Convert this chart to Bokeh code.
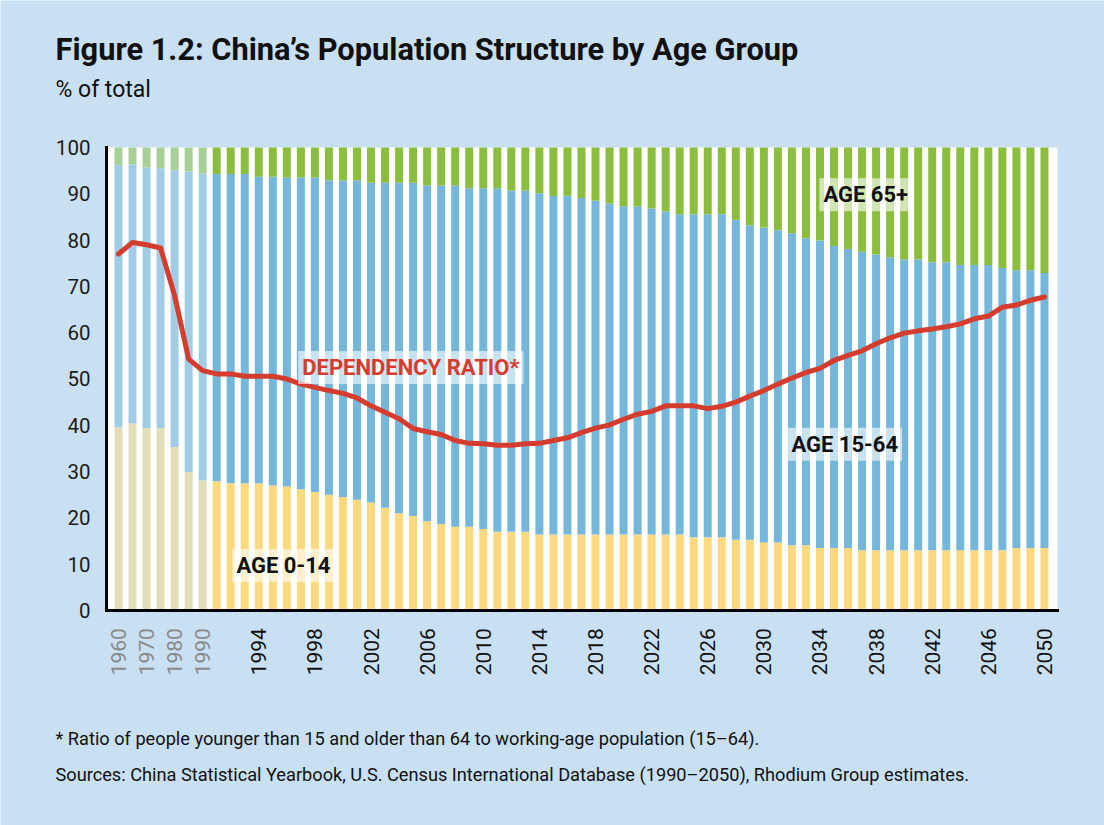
from math import pi
from bokeh.plotting import figure
from bokeh.models import Range1d, Label, LabelSet, ColumnDataSource
from bokeh.core.properties import value
from bokeh.embed import file_html
from bokeh.resources import INLINE

# ---------------- data ----------------
years = [1960, 1965, 1970, 1975, 1980, 1985, 1990] + list(range(1991, 2051))
historical_years = [1960, 1965, 1970, 1975, 1980, 1985, 1990]

age_0_14 = [39.6, 40.4, 39.4, 39.4, 35.3, 29.9, 28.1,
            27.9, 27.5, 27.5, 27.5, 27.0, 26.8, 26.2, 25.6, 25.0, 24.5,
            23.9, 23.3, 22.2, 21.0, 20.4, 19.3, 18.7, 18.1, 18.1, 17.6,
            17.0, 17.0, 17.0, 16.4, 16.4, 16.4, 16.4, 16.4, 16.4, 16.4,
            16.4, 16.4, 16.4, 16.4, 15.8, 15.8, 15.8, 15.3, 15.3, 14.7,
            14.7, 14.1, 14.1, 13.5, 13.5, 13.5, 13.0, 13.0, 13.0, 13.0,
            13.0, 13.0, 13.0, 13.0, 13.0, 13.0, 13.0, 13.5, 13.5, 13.5]

age_15_64 = [56.7, 56.0, 56.3, 56.1, 59.8, 64.9, 66.3,
             66.4, 66.8, 66.8, 66.2, 66.7, 66.7, 67.3, 67.9, 67.9, 68.4,
             69.0, 69.1, 70.2, 71.4, 72.0, 72.5, 73.1, 73.7, 73.1, 73.6,
             74.2, 73.7, 73.7, 73.7, 73.1, 73.2, 72.7, 72.1, 71.5, 70.9,
             70.9, 70.4, 69.8, 69.2, 69.8, 69.8, 69.8, 69.1, 67.9, 68.0,
             67.4, 67.4, 66.3, 66.4, 65.2, 64.6, 64.5, 63.9, 63.3, 62.8,
             62.8, 62.2, 62.2, 61.6, 61.6, 61.6, 61.0, 60.0, 60.0, 59.4]

age_65_plus = [3.7, 3.6, 4.3, 4.5, 4.9, 5.2, 5.6,
               5.7, 5.7, 5.7, 6.3, 6.3, 6.5, 6.5, 6.5, 7.1, 7.1,
               7.1, 7.6, 7.6, 7.6, 7.6, 8.2, 8.2, 8.2, 8.8, 8.8,
               8.8, 9.3, 9.3, 9.9, 10.5, 10.4, 10.9, 11.5, 12.1, 12.7,
               12.7, 13.2, 13.8, 14.4, 14.4, 14.4, 14.4, 15.6, 16.8, 17.3,
               17.9, 18.5, 19.6, 20.1, 21.3, 21.9, 22.5, 23.1, 23.7, 24.2,
               24.2, 24.8, 24.8, 25.4, 25.4, 25.4, 26.0, 26.5, 26.5, 27.1]

dependency_ratio = [77.0, 79.5, 79.0, 78.3, 68.0, 54.3, 51.8,
                    51.1, 51.1, 50.6, 50.6, 50.6, 50.0, 48.9, 48.2, 47.5, 46.9,
                    45.9, 44.2, 42.8, 41.4, 39.3, 38.6, 38.0, 36.7, 36.1, 36.0,
                    35.7, 35.7, 36.0, 36.1, 36.7, 37.3, 38.4, 39.4, 40.1, 41.3,
                    42.4, 43.0, 44.2, 44.2, 44.2, 43.6, 44.1, 45.0, 46.3, 47.5,
                    48.9, 50.2, 51.4, 52.3, 54.0, 55.1, 56.1, 57.6, 58.9, 59.9,
                    60.4, 60.8, 61.3, 61.9, 63.0, 63.6, 65.5, 66.0, 67.0, 67.7]

tick_years = [1960, 1970, 1980, 1990] + list(range(1994, 2051, 4))
y_ticks = [0, 10, 20, 30, 40, 50, 60, 70, 80, 90, 100]

# ---------------- styles ----------------
BG = "#c8e0f1"
C014, C014_OLD = "#fcd97e", "#e1ddb9"
C1564, C1564_OLD = "#74b7db", "#a1cce6"
C65, C65_OLD = "#8bbe3f", "#a8cf96"
RED = "#d43c2e"
FONT = "Roboto"

# plot-area geometry (data units): bars 0..66, values 0..100
X_LO, X_HI = -0.855, 66.93

xs = list(range(len(years)))
old = [y in historical_years for y in years]
t1 = age_0_14
t2 = [a + b for a, b in zip(age_0_14, age_15_64)]
t3 = [a + c for a, c in zip(t2, age_65_plus)]

src = ColumnDataSource(dict(
    x=xs, b0=[0] * len(xs), t1=t1, t2=t2, t3=t3,
    c1=[C014_OLD if o else C014 for o in old],
    c2=[C1564_OLD if o else C1564 for o in old],
    c3=[C65_OLD if o else C65 for o in old],
))

p = figure(width=1104, height=825, output_backend="svg", toolbar_location=None,
           x_range=Range1d(-8.41, 70.28), y_range=Range1d(-46.44, 131.75),
           min_border=0, min_border_left=0, min_border_right=0,
           min_border_top=0, min_border_bottom=0, title=None)
p.background_fill_color = BG
p.border_fill_color = BG
p.outline_line_color = None
p.grid.visible = False
p.axis.visible = False

# white plotting area
p.quad(left=[X_LO], right=[X_HI], bottom=[0], top=[100], fill_color="white", line_color=None)

W = 0.57
p.vbar(x="x", bottom="b0", top="t1", width=W, fill_color="c1", line_color=None, source=src)
p.vbar(x="x", bottom="t1", top="t2", width=W, fill_color="c2", line_color=None, source=src)
p.vbar(x="x", bottom="t2", top="t3", width=W, fill_color="c3", line_color=None, source=src)

p.line(xs, dependency_ratio, line_color=RED, line_width=5, line_join="round", line_cap="round")

# axis lines
p.segment(x0=[X_LO, X_LO], y0=[0, 0], x1=[X_LO, X_HI], y1=[100, 0],
          line_color="black", line_width=3, line_cap="square")

# y tick labels
ysrc = ColumnDataSource(dict(x=[-2.0] * len(y_ticks), y=y_ticks, t=[str(v) for v in y_ticks]))
p.add_layout(LabelSet(x="x", y="y", text="t", source=ysrc, text_align="right",
                      text_baseline="middle", text_font=value(FONT),
                      text_font_size="20.5px", text_color="#1a1a1a"))

# x tick labels (grey for historical years)
tsrc = ColumnDataSource(dict(
    x=[years.index(y) for y in tick_years],
    y=[-3.8] * len(tick_years),
    t=[str(y) for y in tick_years],
    c=["#8a8a8a" if y in historical_years else "#111111" for y in tick_years],
))
p.add_layout(LabelSet(x="x", y="y", text="t", source=tsrc, angle=pi / 2,
                      text_align="right", text_baseline="middle",
                      text_font=value(FONT), text_font_size="21px", text_color="c"))

# series labels
def tag(x, y, txt, color="#111111"):
    p.add_layout(Label(x=x, y=y, text=txt, text_font=FONT, text_font_style="bold",
                       text_font_size="22px", text_color=color, text_align="left",
                       text_baseline="middle", background_fill_color="white",
                       background_fill_alpha=0.6, padding=4))

tag(49.96, 89.8, "AGE 65+")
tag(47.68, 35.9, "AGE 15-64")
tag(8.12, 9.7, "AGE 0-14")
tag(12.81, 52.5, "DEPENDENCY RATIO*", RED)

# titles & notes
def note(y, txt, size, bold=False):
    p.add_layout(Label(x=-4.49, y=y, text=txt, text_font=FONT,
                       text_font_style="bold" if bold else "normal",
                       text_font_size=size, text_color="#111111",
                       text_align="left", text_baseline="alphabetic"))

note(121.2, "Figure 1.2: China\u2019s Population Structure by Age Group", "30.8px", bold=True)
note(112.6, "% of total", "23px")
note(-27.7, "* Ratio of people younger than 15 and older than 64 to working-age population (15\u201364).", "18.2px")
note(-35.4, "Sources: China Statistical Yearbook, U.S. Census International Database (1990\u20132050), Rhodium Group estimates.", "18.2px")

open("out.html", "w").write(file_html(p, INLINE))
